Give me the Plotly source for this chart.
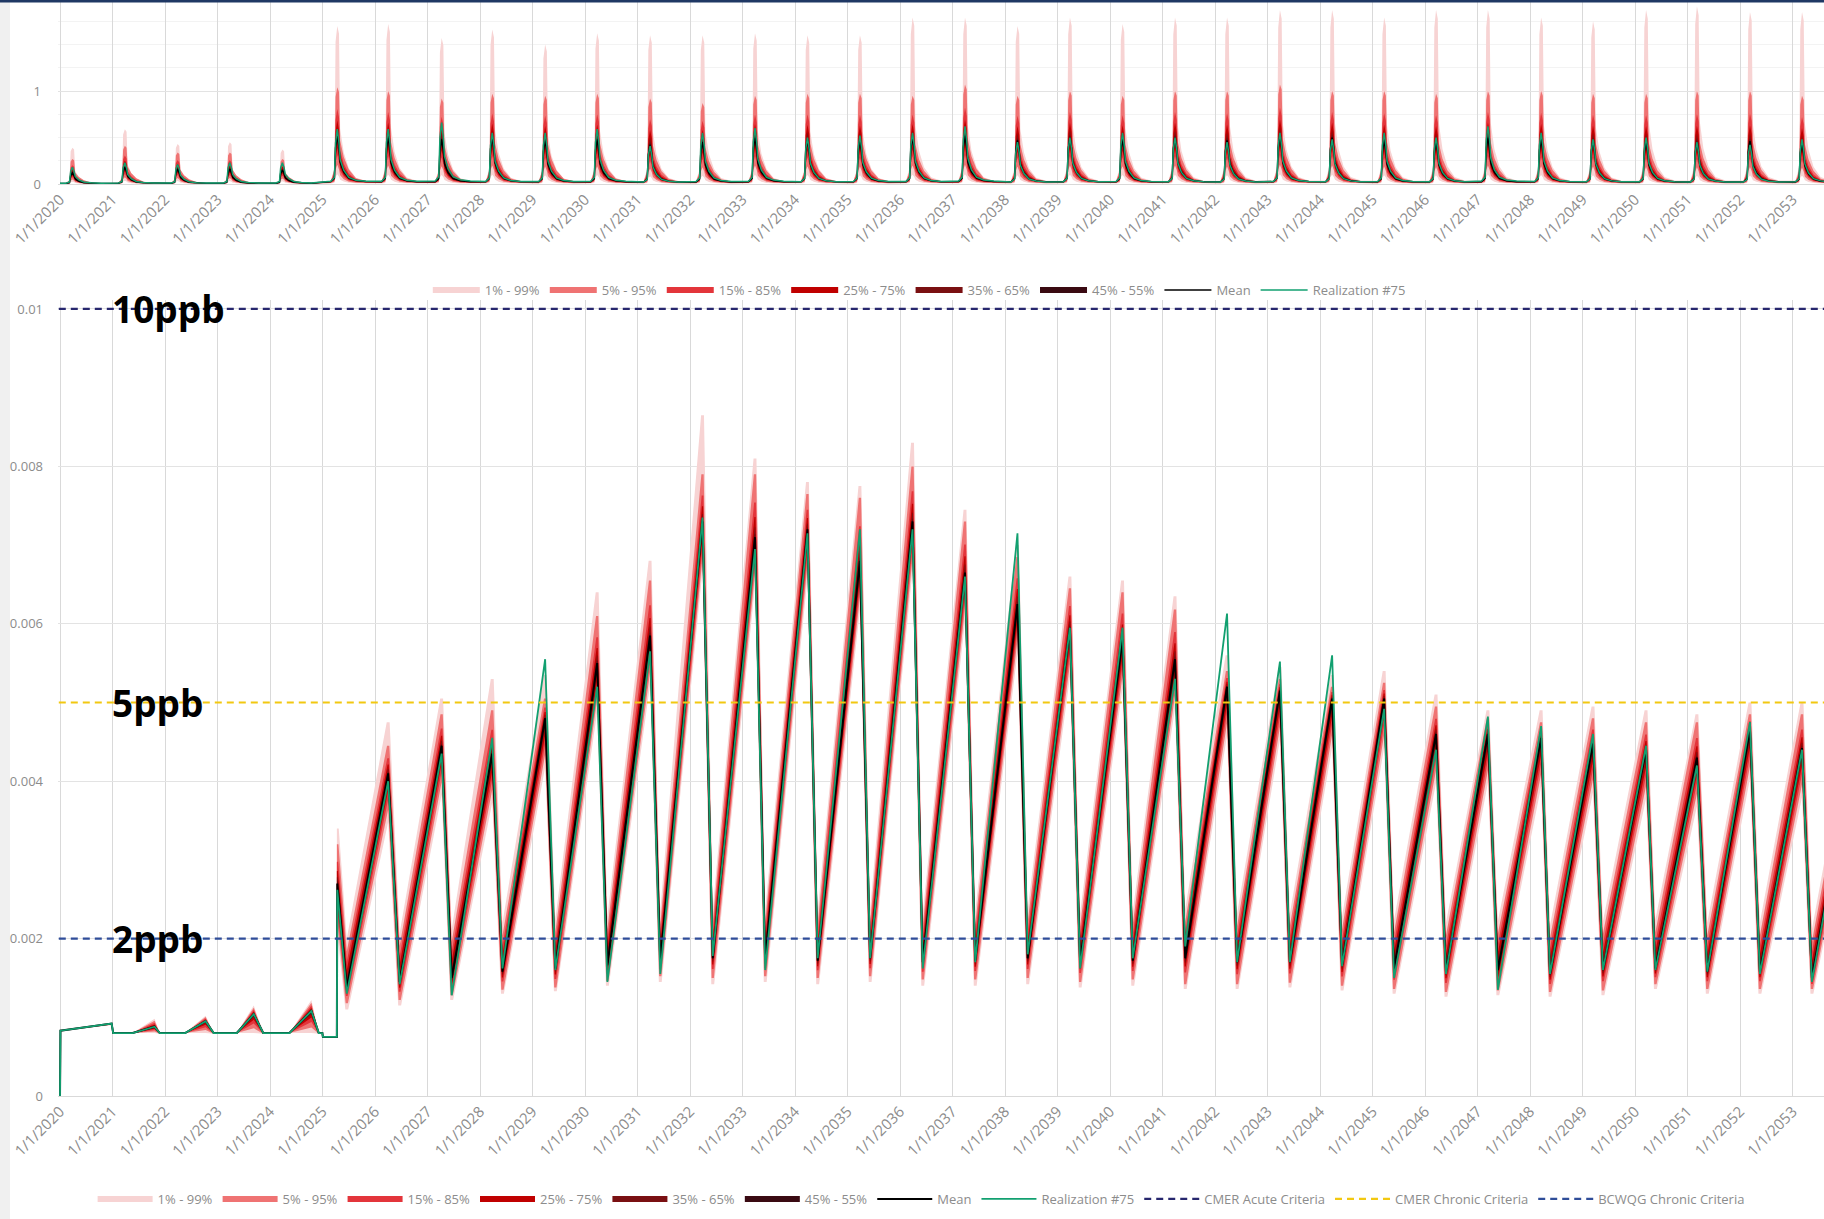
import plotly.graph_objects as go
import pandas as pd

W, H = 1824, 1219

# ---------------- axis data ----------------
years_axis = list(range(2020, 2054))
tick_vals = [f"{y}-01-01" for y in years_axis]
tick_text = [f"1/1/{y}" for y in years_axis]

band_names = ["1% - 99%", "5% - 95%", "15% - 85%", "25% - 75%", "35% - 65%", "45% - 55%"]
band_colors = ["#f7d3d3", "#ef7373", "#e3353b", "#c00000", "#7a1012", "#3a0a12"]
mean_color = "#000000"
real_color = "#12a070"

# ---------------- bottom panel (ppb) ----------------
early_dates = ["2020-01-01", "2020-01-04", "2020-12-25", "2021-01-05", "2021-05-20", "2021-10-20",
               "2021-11-25", "2022-05-20", "2022-10-10", "2022-12-05", "2023-05-15", "2023-09-10",
               "2023-11-15", "2024-05-15", "2024-10-15", "2024-12-05", "2024-12-30", "2025-01-03",
               "2025-04-10"]
early_mean = [0.0, 0.83, 0.92, 0.80, 0.80, 0.88, 0.80, 0.80, 0.95, 0.80, 0.80, 1.04, 0.80,
              0.80, 1.08, 0.80, 0.80, 0.75, 0.75]
early_p99 = [0.0, 0.83, 0.93, 0.80, 0.80, 0.98, 0.80, 0.80, 1.02, 0.80, 0.80, 1.15, 0.80,
             0.80, 1.22, 0.80, 0.80, 0.75, 0.75]
early_p1 = [0.0, 0.83, 0.90, 0.80, 0.80, 0.80, 0.79, 0.80, 0.80, 0.79, 0.80, 0.80, 0.79,
            0.80, 0.80, 0.79, 0.79, 0.75, 0.75]

peak_dates = ["2025-04-13", "2026-04-02", "2027-04-09", "2028-03-26", "2029-03-29", "2030-03-26",
              "2031-03-29", "2032-03-28", "2033-03-28", "2034-03-28", "2035-03-28", "2036-03-28",
              "2037-03-28", "2038-03-28", "2039-03-28", "2040-03-28", "2041-03-28", "2042-03-25",
              "2043-03-28", "2044-03-25", "2045-03-22", "2046-03-18", "2047-03-14", "2048-03-18",
              "2049-03-14", "2050-03-18", "2051-03-07", "2052-03-10", "2053-03-07", "2054-03-07"]
trough_dates = ["2025-06-18", "2026-06-21", "2027-06-18", "2028-06-05", "2029-06-08", "2030-06-05",
                "2031-06-08", "2032-06-07", "2033-06-07", "2034-06-07", "2035-06-07", "2036-06-07",
                "2037-06-07", "2038-06-07", "2039-06-07", "2040-06-07", "2041-06-07", "2042-06-03",
                "2043-06-05", "2044-06-02", "2045-05-30", "2046-05-26", "2047-05-22", "2048-05-19",
                "2049-05-22", "2050-05-22", "2051-05-18", "2052-05-18", "2053-05-15"]

peak_mean = [2.70, 4.10, 4.45, 4.35, 4.80, 5.50, 5.85, 7.30, 7.10, 7.20, 6.80, 7.30, 6.65, 6.25, 5.95,
             5.80, 5.55, 5.20, 5.15, 5.05, 5.05, 4.60, 4.60, 4.55, 4.48, 4.40, 4.30, 4.65, 4.42, 4.50]
peak_p95 = [3.20, 4.45, 4.85, 4.90, 5.05, 6.10, 6.55, 7.90, 7.90, 7.65, 7.60, 8.00, 7.30, 6.85, 6.45,
            6.40, 6.18, 5.40, 5.30, 5.20, 5.25, 4.95, 4.80, 4.75, 4.80, 4.75, 4.75, 4.85, 4.85, 4.80]
peak_p99 = [3.40, 4.75, 5.05, 5.30, 5.35, 6.40, 6.80, 8.65, 8.10, 7.80, 7.75, 8.30, 7.45, 7.00, 6.60,
            6.55, 6.35, 5.60, 5.45, 5.35, 5.40, 5.10, 4.90, 4.90, 4.95, 4.90, 4.85, 5.00, 5.00, 4.95]
peak_real = [2.62, 4.00, 4.35, 4.55, 5.55, 5.20, 5.65, 7.35, 6.95, 7.15, 7.20, 7.20, 6.60, 7.15, 5.95,
             5.95, 5.30, 6.13, 5.52, 5.60, 4.92, 4.40, 4.82, 4.70, 4.60, 4.45, 4.20, 4.75, 4.40, 4.50]

trough_mean = [1.38, 1.45, 1.50, 1.58, 1.62, 1.66, 1.72, 1.75, 1.75, 1.72, 1.75, 1.70, 1.72, 1.75, 1.70,
               1.72, 1.75, 1.70, 1.70, 1.66, 1.62, 1.58, 1.60, 1.55, 1.60, 1.62, 1.58, 1.58, 1.50]
trough_p5 = [1.18, 1.22, 1.28, 1.35, 1.38, 1.46, 1.52, 1.50, 1.52, 1.50, 1.52, 1.48, 1.48, 1.50, 1.45,
             1.48, 1.42, 1.42, 1.44, 1.40, 1.36, 1.32, 1.34, 1.32, 1.34, 1.42, 1.36, 1.36, 1.36]
trough_p1 = [1.10, 1.15, 1.22, 1.30, 1.33, 1.40, 1.45, 1.42, 1.45, 1.42, 1.45, 1.40, 1.40, 1.42, 1.38,
             1.40, 1.36, 1.36, 1.38, 1.34, 1.30, 1.26, 1.28, 1.26, 1.28, 1.36, 1.30, 1.30, 1.30]
trough_real = [1.30, 1.42, 1.28, 1.62, 1.60, 1.45, 1.55, 1.78, 1.60, 1.75, 1.75, 1.62, 1.70, 1.80, 1.62,
               1.75, 1.90, 1.70, 1.70, 1.65, 1.50, 1.55, 1.35, 1.55, 1.60, 1.60, 1.58, 1.55, 1.45]

criteria_names = ["CMER Acute Criteria", "CMER Chronic Criteria", "BCWQG Chronic Criteria"]
criteria_ppb = [10, 5, 2]
criteria_colors = ["#27276e", "#f2c811", "#2f4d99"]
criteria_labels = ["10ppb", "5ppb", "2ppb"]

# ---------------- top panel ----------------
top_peak_dates = ["2020-03-27", "2021-03-27", "2022-03-29", "2023-03-27", "2024-03-27"] + peak_dates[:29]
top_p99 = [0.39, 0.59, 0.43, 0.45, 0.37, 1.70, 1.72, 1.57, 1.66, 1.50, 1.62, 1.60, 1.60, 1.62, 1.60,
           1.60, 1.79, 1.79, 1.70, 1.79, 1.72, 1.79, 1.79, 1.87, 1.87, 1.79, 1.87, 1.87, 1.79, 1.75,
           1.87, 1.91, 1.85, 1.85]
top_p95 = [0.27, 0.41, 0.34, 0.34, 0.27, 1.04, 1.00, 0.92, 0.97, 0.95, 0.97, 0.92, 0.87, 0.95, 0.97,
           0.97, 0.95, 1.07, 0.95, 1.00, 0.95, 1.00, 1.00, 1.07, 1.00, 1.00, 0.97, 1.00, 1.00, 0.97,
           0.97, 1.00, 1.00, 0.95]
top_mean = [0.12, 0.18, 0.16, 0.16, 0.15, 0.52, 0.50, 0.48, 0.50, 0.47, 0.48, 0.42, 0.45, 0.50, 0.48,
            0.47, 0.50, 0.52, 0.47, 0.50, 0.48, 0.50, 0.47, 0.52, 0.50, 0.47, 0.46, 0.50, 0.48, 0.47,
            0.46, 0.45, 0.46, 0.44]
top_real = [0.18, 0.23, 0.21, 0.23, 0.23, 0.59, 0.59, 0.66, 0.55, 0.55, 0.59, 0.41, 0.55, 0.60, 0.50,
            0.52, 0.55, 0.62, 0.45, 0.50, 0.55, 0.50, 0.45, 0.55, 0.48, 0.55, 0.50, 0.62, 0.55, 0.48,
            0.50, 0.45, 0.42, 0.48]
# typical spike profile (days from the spike, fraction of that spike's height)
top_offsets_days = [-45, -20, -12, 0, 12, 20, 45, 80, 130, 200]
top_prof_mean = [0.05, 0.12, 0.75, 1.0, 0.75, 0.45, 0.25, 0.12, 0.07, 0.05]
top_prof_p95 = [0.03, 0.15, 0.90, 1.0, 0.95, 0.45, 0.28, 0.15, 0.06, 0.03]
top_prof_p99 = [0.02, 0.10, 0.90, 1.0, 0.95, 0.35, 0.20, 0.10, 0.04, 0.02]

# band geometry
inner_share = [1.0, 1.0, 0.55, 0.32, 0.16, 0.05]      # share of the mean->5/95% spread at peaks/troughs
band_halfwidth_ppb = [0.62, 0.46, 0.33, 0.22, 0.12, 0.04]  # typical half-width along the flanks
early_share = [1.0, 0.75, 0.5, 0.3, 0.15, 0.05]
band_shift_days = [10, 8, 6, 4, 2.5, 1]
top_low_frac = [0.2, 0.4, 0.6, 0.75, 0.87, 0.96]

PPB = 0.001


def T(s):
    return pd.Timestamp(s)


def push(pts, x, y):
    if pts and x <= pts[-1][0]:
        x = pts[-1][0] + pd.Timedelta(hours=6)
    pts.append((x, y))


def polygon(upper, lower):
    xs = [p[0] for p in upper] + [p[0] for p in lower[::-1]]
    ys = [p[1] for p in upper] + [p[1] for p in lower[::-1]]
    return xs + [xs[0]], ys + [ys[0]]


fig = go.Figure()

# ---- top panel bands ----
def top_series(peaks, prof):
    pts = [(T("2020-01-01"), peaks[0] * prof[0])]
    for d, pk in zip(top_peak_dates, peaks):
        for off, f in zip(top_offsets_days, prof):
            push(pts, T(d) + pd.Timedelta(days=off), pk * f)
    push(pts, T("2054-06-30"), peaks[-1] * prof[-1])
    return pts

top_mean_pts = top_series(top_mean, top_prof_mean)
top_p95_pts = top_series(top_p95, top_prof_p95)
top_p99_pts = top_series(top_p99, top_prof_p99)
top_real_pts = top_series(top_real, top_prof_mean)

for b in range(6):
    upper, lower = [], []
    for (x, m), (_, v95), (_, v99) in zip(top_mean_pts, top_p95_pts, top_p99_pts):
        if b == 0:
            hi = v99
        elif b == 1:
            hi = v95
        else:
            hi = m + inner_share[b] * (v95 - m)
        upper.append((x, hi))
        lower.append((x, m * top_low_frac[b]))
    xs, ys = polygon(upper, lower)
    fig.add_trace(go.Scatter(x=xs, y=ys, fill="toself", fillcolor=band_colors[b], mode="none",
                             name=band_names[b], legend="legend", xaxis="x", yaxis="y",
                             hoverinfo="skip"))

fig.add_trace(go.Scatter(x=[p[0] for p in top_mean_pts], y=[p[1] for p in top_mean_pts], mode="lines",
                         line=dict(color=mean_color, width=1.5), name="Mean", legend="legend",
                         xaxis="x", yaxis="y"))
fig.add_trace(go.Scatter(x=[p[0] for p in top_real_pts], y=[p[1] for p in top_real_pts], mode="lines",
                         line=dict(color=real_color, width=1.5), name="Realization #75", legend="legend",
                         xaxis="x", yaxis="y"))

# ---- bottom panel bands ----
for b in range(6):
    d = pd.Timedelta(days=band_shift_days[b])
    hw = band_halfwidth_ppb[b]
    upper, lower = [], []
    for dt, m, hi99, lo1 in zip(early_dates, early_mean, early_p99, early_p1):
        push(upper, T(dt), (m + early_share[b] * (hi99 - m)) * PPB)
        push(lower, T(dt), (m - early_share[b] * (m - lo1)) * PPB)
    for k, pk in enumerate(peak_dates):
        m, v95, v99 = peak_mean[k], peak_p95[k], peak_p99[k]
        hi = v99 if b == 0 else (v95 if b == 1 else m + inner_share[b] * (v95 - m))
        push(upper, T(pk) - d, hi * PPB)
        push(upper, T(pk) + d, hi * PPB)
        push(lower, T(pk), (m - hw) * PPB)
        if k < len(trough_dates):
            tm, t5, t1 = trough_mean[k], trough_p5[k], trough_p1[k]
            tlo = t1 if b == 0 else (t5 if b == 1 else tm - inner_share[b] * (tm - t5))
            push(upper, T(trough_dates[k]), (tm + hw) * PPB)
            push(lower, T(trough_dates[k]) - d, tlo * PPB)
            push(lower, T(trough_dates[k]) + d, tlo * PPB)
    xs, ys = polygon(upper, lower)
    fig.add_trace(go.Scatter(x=xs, y=ys, fill="toself", fillcolor=band_colors[b], mode="none",
                             name=band_names[b], legend="legend2", xaxis="x2", yaxis="y2",
                             hoverinfo="skip"))


def cycle_line(pk_vals, tr_vals):
    pts = []
    for dt, m in zip(early_dates, early_mean):
        push(pts, T(dt), m * PPB)
    for k, pk in enumerate(peak_dates):
        push(pts, T(pk), pk_vals[k] * PPB)
        if k < len(trough_dates):
            push(pts, T(trough_dates[k]), tr_vals[k] * PPB)
    return pts

mean_pts = cycle_line(peak_mean, trough_mean)
real_pts = cycle_line(peak_real, trough_real)
fig.add_trace(go.Scatter(x=[p[0] for p in mean_pts], y=[p[1] for p in mean_pts], mode="lines",
                         line=dict(color=mean_color, width=2), name="Mean", legend="legend2",
                         xaxis="x2", yaxis="y2"))
fig.add_trace(go.Scatter(x=[p[0] for p in real_pts], y=[p[1] for p in real_pts], mode="lines",
                         line=dict(color=real_color, width=1.8), name="Realization #75", legend="legend2",
                         xaxis="x2", yaxis="y2"))

for name, val, col in zip(criteria_names, criteria_ppb, criteria_colors):
    fig.add_trace(go.Scatter(x=["2019-10-01", "2054-12-31"], y=[val * PPB, val * PPB], mode="lines",
                             line=dict(color=col, width=2.2, dash="7px,5px"), name=name,
                             legend="legend2", xaxis="x2", yaxis="y2"))

for lab, val in zip(criteria_labels, criteria_ppb):
    fig.add_annotation(x=110 / W, xref="paper", y=val * PPB, yref="y2", text=f"<b>{lab}</b>",
                       showarrow=False, xanchor="left", yanchor="middle",
                       font=dict(family="Open Sans, Liberation Sans, sans-serif", size=37, color="#000000"))

# ---------------- layout ----------------
x_dom = [58 / W, 1.0]
x_range = ["2019-12-18", "2053-08-07"]
axis_common = dict(type="date", range=x_range, domain=x_dom, tickvals=tick_vals, ticktext=tick_text,
                   tickangle=-45, showgrid=True, gridcolor="#d9d9d9", gridwidth=1, showline=True,
                   linecolor="#d9d9d9", ticks="", zeroline=False, automargin=False,
                   tickfont=dict(size=15, color="#8c8c8c"))

fig.update_layout(
    width=W, height=H, margin=dict(l=0, r=0, t=0, b=0, autoexpand=False),
    paper_bgcolor="white", plot_bgcolor="white",
    font=dict(family="Open Sans, Liberation Sans, sans-serif", color="#7f7f7f", size=13),
    showlegend=True,
    xaxis=dict(anchor="y", **axis_common),
    xaxis2=dict(anchor="y2", **axis_common),
    yaxis=dict(domain=[1 - 184 / H, 1 - 2 / H], range=[0, 1.957], tickvals=[0, 1], ticktext=["0", "1"],
               showgrid=True, gridcolor="#e3e3e3", zeroline=False, ticklabelstandoff=16, automargin=False,
               tickfont=dict(size=13, color="#8c8c8c"),
               minor=dict(dtick=0.25, showgrid=True, gridcolor="#f3f3f3")),
    yaxis2=dict(domain=[1 - 1096 / H, 1 - 300 / H], range=[0, 0.010114],
                tickvals=[0, 0.002, 0.004, 0.006, 0.008, 0.01],
                ticktext=["0", "0.002", "0.004", "0.006", "0.008", "0.01"],
                showgrid=True, gridcolor="#e3e3e3", zeroline=False, ticklabelstandoff=14, automargin=False,
                tickfont=dict(size=13, color="#8c8c8c")),
    legend=dict(orientation="h", x=0.504, xanchor="center", y=1 - 290 / H, yanchor="middle",
                font=dict(size=13, color="#8c8c8c"), bgcolor="rgba(0,0,0,0)", itemwidth=47,
                traceorder="normal"),
    legend2=dict(orientation="h", x=0.505, xanchor="center", y=1 - 1199 / H, yanchor="middle",
                 font=dict(size=13, color="#8c8c8c"), bgcolor="rgba(0,0,0,0)", itemwidth=55,
                 traceorder="normal"),
    shapes=[
        dict(type="rect", xref="paper", yref="paper", x0=0, x1=10 / W, y0=0, y1=1,
             fillcolor="#f0f0f0", line=dict(width=0), layer="below"),
        dict(type="line", xref="paper", yref="paper", x0=0, x1=1, y0=1 - 1 / H, y1=1 - 1 / H,
             line=dict(color="#1f3864", width=3)),
    ],
)

fig.write_html("out.html")
